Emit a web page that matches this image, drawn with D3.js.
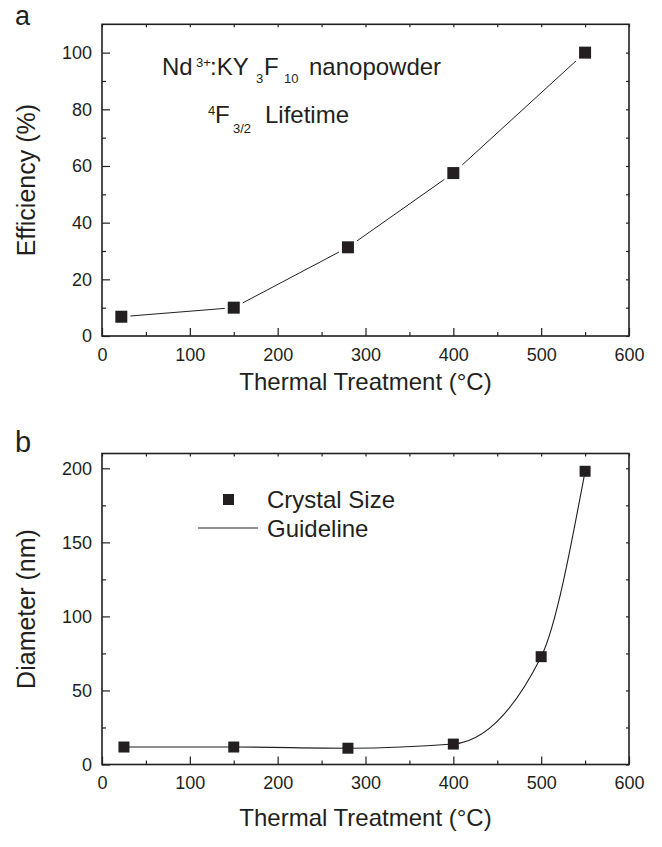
<!DOCTYPE html>
<html>
<head>
<meta charset="utf-8">
<script src="https://cdn.jsdelivr.net/npm/d3@7"></script>
<style>
  html, body { margin: 0; padding: 0; background: #fff; }
  svg { display: block; font-family: "Liberation Sans", Arial, sans-serif; }
</style>
</head>
<body>
<svg id="fig" width="662" height="847"></svg>
<script>
// Panel (a): efficiency of the 4F3/2 lifetime vs annealing temperature
const tempsA = [22, 150, 280, 400, 550];
const efficiency = [6.8, 10, 31.3, 57.5, 100];

// Panel (b): crystal size vs annealing temperature
const tempsB = [25, 150, 280, 400, 500, 550];
const diameter = [11.8, 11.8, 11, 13.8, 72.8, 198];

// Axis ticks
const tempTicks = [0, 100, 200, 300, 400, 500, 600];
const tempMinor = [50, 150, 250, 350, 450, 550];
const effTicks = [0, 20, 40, 60, 80, 100];
const effMinor = [10, 30, 50, 70, 90];
const diaTicks = [0, 50, 100, 150, 200];
const diaMinor = [25, 75, 125, 175];

const ink = "#231f20";
const svg = d3.select("#fig");

function frame(g, x, y, xMajor, xMinorT, yMajor, yMinorT) {
  const [x0, x1] = x.range();
  const [y0, y1] = y.range();
  // bottom axis, ticks pointing inward
  g.append("g").attr("transform", `translate(0,${y0})`)
    .call(d3.axisBottom(x).tickValues(xMinorT).tickSize(-4).tickFormat(""))
    .call(a => a.select(".domain").remove());
  g.append("g").attr("transform", `translate(0,${y0})`)
    .call(d3.axisBottom(x).tickValues(xMajor).tickSize(-8).tickPadding(12).tickFormat(d3.format("d")))
    .call(a => a.select(".domain").remove());
  // left axis
  g.append("g").attr("transform", `translate(${x0},0)`)
    .call(d3.axisLeft(y).tickValues(yMinorT).tickSize(-4).tickFormat(""))
    .call(a => a.select(".domain").remove());
  g.append("g").attr("transform", `translate(${x0},0)`)
    .call(d3.axisLeft(y).tickValues(yMajor).tickSize(-8).tickPadding(10).tickFormat(d3.format("d")))
    .call(a => a.select(".domain").remove());
  // top and right mirrored ticks
  g.append("g").attr("transform", `translate(0,${y1})`)
    .call(d3.axisTop(x).tickValues(xMajor.concat(xMinorT)).tickSize(-3).tickFormat(""))
    .call(a => a.select(".domain").remove());
  g.append("g").attr("transform", `translate(${x1},0)`)
    .call(d3.axisRight(y).tickValues(yMajor.concat(yMinorT)).tickSize(-3).tickFormat(""))
    .call(a => a.select(".domain").remove());
  g.selectAll(".tick line").attr("stroke", ink).attr("stroke-width", 1.2);
  g.selectAll(".tick text").attr("fill", ink).attr("font-size", 18)
    .attr("font-family", "Liberation Sans, Arial, sans-serif");
  g.append("rect")
    .attr("x", x0).attr("y", y1).attr("width", x1 - x0).attr("height", y0 - y1)
    .attr("fill", "none").attr("stroke", ink).attr("stroke-width", 1.6);
}

// ---------- Panel (a) ----------
const xA = d3.scaleLinear().domain([0, 600]).range([102, 629]);
const yA = d3.scaleLinear().domain([0, 110]).range([336, 24.3]);
const gA = svg.append("g");
const ptsA = tempsA.map((t, i) => ({ t, v: efficiency[i] }));

gA.append("path").datum(ptsA)
  .attr("d", d3.line().x(d => xA(d.t)).y(d => yA(d.v)))
  .attr("fill", "none").attr("stroke", ink).attr("stroke-width", 1);
// white halo leaves a small gap between line and symbol
gA.selectAll("rect.halo").data(ptsA).join("rect").attr("class", "halo")
  .attr("x", d => xA(d.t) - 9).attr("y", d => yA(d.v) - 9)
  .attr("width", 18).attr("height", 18).attr("fill", "#fff");
gA.selectAll("rect.sym").data(ptsA).join("rect").attr("class", "sym")
  .attr("x", d => xA(d.t) - 6).attr("y", d => yA(d.v) - 6)
  .attr("width", 12).attr("height", 12).attr("fill", ink);

frame(gA, xA, yA, tempTicks, tempMinor, effTicks, effMinor);

svg.append("text").attr("x", 15).attr("y", 25).attr("font-size", 27).attr("fill", ink).text("a");

// annotation: Nd3+:KY3F10 nanopowder / 4F3/2 Lifetime
const ann1 = svg.append("text").attr("fill", ink).attr("font-size", 24);
ann1.append("tspan").attr("x", 162).attr("y", 75).text("Nd");
ann1.append("tspan").attr("x", 196).attr("y", 67).attr("font-size", 13).text("3+");
ann1.append("tspan").attr("x", 210).attr("y", 75).text(":KY");
ann1.append("tspan").attr("x", 256).attr("y", 83).attr("font-size", 13).text("3");
ann1.append("tspan").attr("x", 264).attr("y", 75).text("F");
ann1.append("tspan").attr("x", 284).attr("y", 83).attr("font-size", 13).text("10");
ann1.append("tspan").attr("x", 309).attr("y", 75).text("nanopowder");

const ann2 = svg.append("text").attr("fill", ink).attr("font-size", 24);
ann2.append("tspan").attr("x", 208).attr("y", 115).attr("font-size", 13).text("4");
ann2.append("tspan").attr("x", 215).attr("y", 123).text("F");
ann2.append("tspan").attr("x", 233).attr("y", 133).attr("font-size", 13).text("3/2");
ann2.append("tspan").attr("x", 265).attr("y", 123).text("Lifetime");

svg.append("text").attr("x", 365.5).attr("y", 390).attr("text-anchor", "middle")
  .attr("font-size", 24).attr("fill", ink).text("Thermal Treatment (°C)");
svg.append("text").attr("transform", `translate(35,${(24.3 + 336) / 2}) rotate(-90)`)
  .attr("text-anchor", "middle").attr("font-size", 25).attr("fill", ink).text("Efficiency (%)");

// ---------- Panel (b) ----------
const xB = d3.scaleLinear().domain([0, 600]).range([102, 629]);
const yB = d3.scaleLinear().domain([0, 210]).range([764.5, 453.5]);
const gB = svg.append("g");
const ptsB = tempsB.map((t, i) => ({ t, v: diameter[i] }));

gB.append("path").datum(ptsB)
  .attr("d", d3.line().curve(d3.curveMonotoneX).x(d => xB(d.t)).y(d => yB(d.v)))
  .attr("fill", "none").attr("stroke", ink).attr("stroke-width", 1.1);
gB.selectAll("rect.sym").data(ptsB).join("rect").attr("class", "sym")
  .attr("x", d => xB(d.t) - 5.5).attr("y", d => yB(d.v) - 5.5)
  .attr("width", 11).attr("height", 11).attr("fill", ink);

frame(gB, xB, yB, tempTicks, tempMinor, diaTicks, diaMinor);

svg.append("text").attr("x", 15).attr("y", 452).attr("font-size", 29).attr("fill", ink).text("b");

// legend
svg.append("rect").attr("x", 223).attr("y", 494).attr("width", 11).attr("height", 11).attr("fill", ink);
svg.append("text").attr("x", 267).attr("y", 508).attr("font-size", 24).attr("fill", ink).text("Crystal Size");
svg.append("line").attr("x1", 198).attr("x2", 258).attr("y1", 528).attr("y2", 528)
  .attr("stroke", ink).attr("stroke-width", 1.1);
svg.append("text").attr("x", 267).attr("y", 537).attr("font-size", 24).attr("fill", ink).text("Guideline");

svg.append("text").attr("x", 365.5).attr("y", 826).attr("text-anchor", "middle")
  .attr("font-size", 24).attr("fill", ink).text("Thermal Treatment (°C)");
svg.append("text").attr("transform", `translate(35,${(453.5 + 764.5) / 2}) rotate(-90)`)
  .attr("text-anchor", "middle").attr("font-size", 25).attr("fill", ink).text("Diameter (nm)");
</script>
</body>
</html>
